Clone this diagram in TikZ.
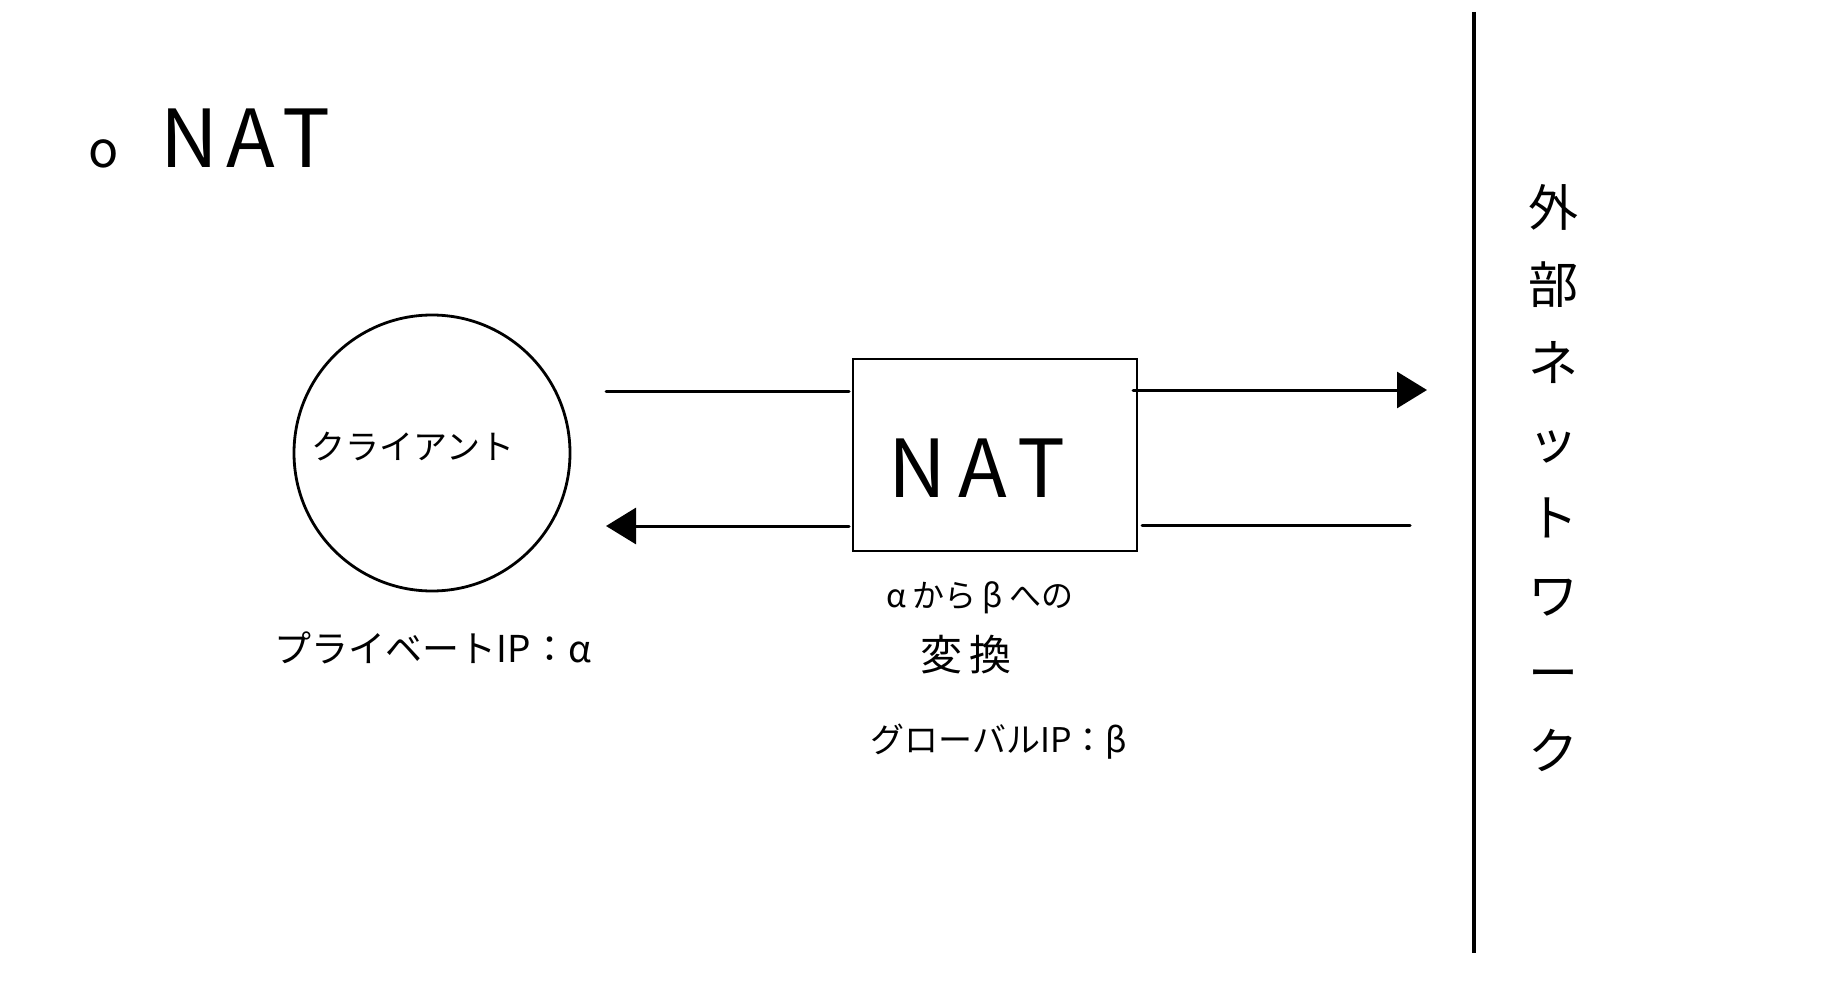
\documentclass[tikz,border=0pt]{standalone}
\usepackage{fontspec}
\setmainfont{Noto Sans CJK JP}
\usetikzlibrary{arrows.meta}
\tikzset{
  stroke/.style={line width=3pt, line cap=round},
  tip/.style={-{Triangle[length=30pt,width=36pt]}},
  lbl/.style={inner sep=0pt, font=\fontsize{#1}{#1}\selectfont},
}
\begin{document}
\begin{tikzpicture}[x=1pt,y=-1pt]
\useasboundingbox[fill=white] (0,0) rectangle (1832,1000);

% title
\node[lbl=80, anchor=base west] (title) at (88,168) {{\fontsize{50}{50}\selectfont o}\hspace{42pt}N\hspace{8pt}A\hspace{8pt}T};

% client circle
\node[circle, draw, line width=2.8pt, minimum size=276pt, inner sep=0pt] (client) at (432,453) {};
\node[lbl=34] (clientlbl) at (413,447) {クライアント};
\node[lbl=37] (privip) at (433,648) {プライベートIP：α};

% NAT box
\node[draw, line width=2.8pt, minimum width=284pt, minimum height=192pt, inner sep=0pt] (nat) at (995,455) {};
\node[lbl=80] (natlbl) at (977,468) {N\hspace{12pt}A\hspace{10pt}T};
\node[lbl=32] (conv1) at (980,598) {α\hspace{6pt}から\hspace{6pt}β\hspace{6pt}への};
\node[lbl=42] (conv2) at (966,655) {変\hspace{8pt}換};
\node[lbl=34] (globip) at (999,742) {グローバルIP：β};

% connectors
\coordinate (l1a) at (606,391);
\coordinate (l1b) at (849,391);
\coordinate (l2a) at (849,526);
\coordinate (l2b) at (606,526);
\coordinate (r1a) at (1133,390);
\coordinate (r1b) at (1427,390);
\coordinate (r2a) at (1142,525);
\coordinate (r2b) at (1410,525);
\draw[stroke] (l1a) -- (l1b);
\draw[stroke, tip] (l2a) -- (l2b);
\draw[stroke, tip] (r1a) -- (r1b);
\draw[stroke] (r2a) -- (r2b);

% boundary
\coordinate (vtop) at (1474,12);
\coordinate (vbot) at (1474,953);
\draw[line width=3.5pt] (vtop) -- (vbot);

\node[lbl=50, align=center, font=\fontsize{50}{77.6}\selectfont] (ext) at (1553,478) {外\\部\\ネ\\ッ\\ト\\ワ\\ー\\ク};
\end{tikzpicture}
\end{document}
